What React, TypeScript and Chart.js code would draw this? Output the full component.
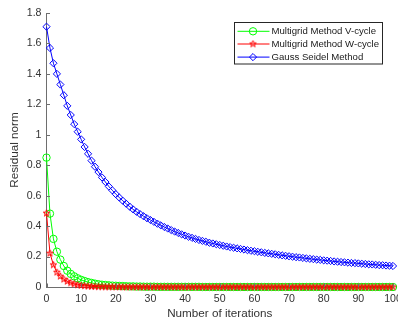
import React, { useEffect, useRef } from "react";
import { Chart, registerables } from "chart.js";

Chart.register(...registerables);

const iterations = [
  0, 1, 2, 3, 4, 5, 6, 7, 8, 9,
  10, 11, 12, 13, 14, 15, 16, 17, 18, 19,
  20, 21, 22, 23, 24, 25, 26, 27, 28, 29,
  30, 31, 32, 33, 34, 35, 36, 37, 38, 39,
  40, 41, 42, 43, 44, 45, 46, 47, 48, 49,
  50, 51, 52, 53, 54, 55, 56, 57, 58, 59,
  60, 61, 62, 63, 64, 65, 66, 67, 68, 69,
  70, 71, 72, 73, 74, 75, 76, 77, 78, 79,
  80, 81, 82, 83, 84, 85, 86, 87, 88, 89,
  90, 91, 92, 93, 94, 95, 96, 97, 98, 99,
  100,
];

const vCycle = [
  0.850, 0.482, 0.316, 0.232, 0.180, 0.138, 0.107, 0.086, 0.070, 0.057,
  0.047, 0.039, 0.032, 0.027, 0.022, 0.018, 0.015, 0.013, 0.011, 0.009,
  0.008, 0.007, 0.006, 0.005, 0.004, 0.004, 0.003, 0.003, 0.002, 0.002,
  0.002, 0.002, 0.001, 0.001, 0.001, 0.001, 0.001, 0.001, 0.001, 0.001,
  0.001, 0.001, 0.001, 0.001, 0.001, 0.000, 0.000, 0.000, 0.000, 0.000,
  0.000, 0.000, 0.000, 0.000, 0.000, 0.000, 0.000, 0.000, 0.000, 0.000,
  0.000, 0.000, 0.000, 0.000, 0.000, 0.000, 0.000, 0.000, 0.000, 0.000,
  0.000, 0.000, 0.000, 0.000, 0.000, 0.000, 0.000, 0.000, 0.000, 0.000,
  0.000, 0.000, 0.000, 0.000, 0.000, 0.000, 0.000, 0.000, 0.000, 0.000,
  0.000, 0.000, 0.000, 0.000, 0.000, 0.000, 0.000, 0.000, 0.000, 0.000,
  0.000,
];

const wCycle = [
  0.485, 0.222, 0.145, 0.097, 0.071, 0.051, 0.037, 0.027, 0.020, 0.014,
  0.010, 0.008, 0.006, 0.004, 0.003, 0.002, 0.002, 0.001, 0.001, 0.001,
  0.001, 0.001, 0.000, 0.000, 0.000, 0.000, 0.000, 0.000, 0.000, 0.000,
  0.000, 0.000, 0.000, 0.000, 0.000, 0.000, 0.000, 0.000, 0.000, 0.000,
  0.000, 0.000, 0.000, 0.000, 0.000, 0.000, 0.000, 0.000, 0.000, 0.000,
  0.000, 0.000, 0.000, 0.000, 0.000, 0.000, 0.000, 0.000, 0.000, 0.000,
  0.000, 0.000, 0.000, 0.000, 0.000, 0.000, 0.000, 0.000, 0.000, 0.000,
  0.000, 0.000, 0.000, 0.000, 0.000, 0.000, 0.000, 0.000, 0.000, 0.000,
  0.000, 0.000, 0.000, 0.000, 0.000, 0.000, 0.000, 0.000, 0.000, 0.000,
  0.000, 0.000, 0.000, 0.000, 0.000, 0.000, 0.000, 0.000, 0.000, 0.000,
  0.000,
];

const gaussSeidel = [
  1.710, 1.570, 1.470, 1.400, 1.330, 1.260, 1.190, 1.130, 1.070, 1.020,
  0.970, 0.920, 0.875, 0.830, 0.790, 0.755, 0.720, 0.690, 0.660, 0.635,
  0.610, 0.588, 0.567, 0.547, 0.528, 0.510, 0.494, 0.479, 0.465, 0.452,
  0.440, 0.428, 0.416, 0.405, 0.394, 0.384, 0.374, 0.364, 0.355, 0.346,
  0.338, 0.330, 0.323, 0.316, 0.309, 0.303, 0.297, 0.291, 0.286, 0.281,
  0.276, 0.271, 0.266, 0.262, 0.258, 0.254, 0.250, 0.246, 0.242, 0.238,
  0.235, 0.231, 0.228, 0.224, 0.221, 0.218, 0.215, 0.211, 0.208, 0.205,
  0.202, 0.199, 0.196, 0.194, 0.191, 0.188, 0.185, 0.183, 0.180, 0.178,
  0.175, 0.173, 0.171, 0.168, 0.166, 0.164, 0.162, 0.160, 0.158, 0.157,
  0.155, 0.153, 0.151, 0.149, 0.148, 0.146, 0.144, 0.143, 0.141, 0.140,
  0.138,
];

const xTickValues = [0, 10, 20, 30, 40, 50, 60, 70, 80, 90, 100];
const yTickValues = [0, 0.2, 0.4, 0.6, 0.8, 1, 1.2, 1.4, 1.6, 1.8];

const seriesLabels = [
  "Multigrid Method V-cycle",
  "Multigrid Method W-cycle",
  "Gauss Seidel Method",
];
const seriesColors = ["#00ff00", "#ff0000", "#0000ff"];

const xTitle = "Number of iterations";
const yTitle = "Residual norm";

const FONT = "'Liberation Sans', Arial, Helvetica, sans-serif";
const AXIS_COLOR = "#6e6e6e";
const TEXT_COLOR = "#333333";

function makePentagram(color: string, R: number): HTMLCanvasElement {
  const size = Math.ceil(R * 2 + 4);
  const c = document.createElement("canvas");
  c.width = size;
  c.height = size;
  const ctx = c.getContext("2d")!;
  const cx = size / 2;
  const cy = size / 2;
  const r = R * 0.382;
  ctx.beginPath();
  for (let k = 0; k < 10; k++) {
    const a = -Math.PI / 2 + (k * Math.PI) / 5;
    const rad = k % 2 === 0 ? R : r;
    const px = cx + rad * Math.cos(a);
    const py = cy + rad * Math.sin(a);
    if (k === 0) ctx.moveTo(px, py);
    else ctx.lineTo(px, py);
  }
  ctx.closePath();
  ctx.strokeStyle = color;
  ctx.lineWidth = 1;
  ctx.stroke();
  return c;
}

const inwardTicks = {
  id: "inwardTicks",
  afterDraw(chart: any) {
    const { ctx, chartArea, scales } = chart;
    const len = 3.5;
    ctx.save();
    ctx.strokeStyle = AXIS_COLOR;
    ctx.lineWidth = 1;
    ctx.beginPath();
    for (const v of xTickValues) {
      const x = Math.round(scales.x.getPixelForValue(v)) + 0.5;
      ctx.moveTo(x, chartArea.bottom);
      ctx.lineTo(x, chartArea.bottom - len);
    }
    for (const v of yTickValues) {
      const y = Math.round(scales.y.getPixelForValue(v)) + 0.5;
      ctx.moveTo(chartArea.left, y);
      ctx.lineTo(chartArea.left + len, y);
    }
    ctx.stroke();
    ctx.restore();
  },
};

const boxLegend = {
  id: "boxLegend",
  afterDraw(chart: any) {
    const { ctx, chartArea } = chart;
    const w = 148;
    const h = 41.5;
    const left = Math.round(chartArea.right - 11.5 - w) + 0.5;
    const top = Math.round(chartArea.top + 9) + 0.5;
    ctx.save();
    ctx.fillStyle = "#ffffff";
    ctx.fillRect(left, top, w, h);
    ctx.strokeStyle = "#262626";
    ctx.lineWidth = 1;
    ctx.strokeRect(left, top, w, h);
    const rows = [8.8, 21.5, 34.6];
    chart.data.datasets.forEach((ds: any, i: number) => {
      const y = top + rows[i];
      const color = ds.borderColor;
      ctx.strokeStyle = color;
      ctx.lineWidth = 1;
      ctx.beginPath();
      ctx.moveTo(left + 3, y);
      ctx.lineTo(left + 35, y);
      ctx.stroke();
      const mx = left + 18.5;
      const style = ds.pointStyle;
      ctx.beginPath();
      if (style === "circle") {
        ctx.arc(mx, y, ds.pointRadius, 0, Math.PI * 2);
        ctx.stroke();
      } else if (style === "rectRot") {
        const r = ds.pointRadius;
        ctx.moveTo(mx - r, y);
        ctx.lineTo(mx, y - r);
        ctx.lineTo(mx + r, y);
        ctx.lineTo(mx, y + r);
        ctx.closePath();
        ctx.stroke();
      } else if (style && style.width) {
        ctx.drawImage(style, mx - style.width / 2, y - style.height / 2);
      }
      ctx.fillStyle = "#1a1a1a";
      ctx.font = `9.6px ${FONT}`;
      ctx.textBaseline = "middle";
      ctx.textAlign = "left";
      ctx.fillText(ds.label, left + 37, y + 0.5);
    });
    ctx.restore();
  },
};

export default function App() {
  const canvasRef = useRef<HTMLCanvasElement | null>(null);

  useEffect(() => {
    if (!canvasRef.current) return;
    const star = makePentagram(seriesColors[1], 3.5);
    const toPoints = (vals: number[]) =>
      iterations.map((x, i) => ({ x, y: vals[i] }));

    const tickFont = { family: FONT, size: 10.6 };
    const titleFont = { family: FONT, size: 11.7, lineHeight: 1.0 };

    const chart = new Chart(canvasRef.current, {
      type: "line",
      data: {
        datasets: [
          {
            label: seriesLabels[0],
            data: toPoints(vCycle),
            borderColor: seriesColors[0],
            backgroundColor: "rgba(0,0,0,0)",
            borderWidth: 1,
            pointStyle: "circle",
            pointRadius: 3.7,
            pointBorderWidth: 1,
            pointBorderColor: seriesColors[0],
            pointBackgroundColor: "rgba(0,0,0,0)",
            order: 2,
            clip: false,
          },
          {
            label: seriesLabels[1],
            data: toPoints(wCycle),
            borderColor: seriesColors[1],
            backgroundColor: "rgba(0,0,0,0)",
            borderWidth: 1,
            pointStyle: star as any,
            pointRadius: 3.5,
            pointBorderWidth: 1,
            pointBorderColor: seriesColors[1],
            pointBackgroundColor: "rgba(0,0,0,0)",
            order: 1,
            clip: false,
          },
          {
            label: seriesLabels[2],
            data: toPoints(gaussSeidel),
            borderColor: seriesColors[2],
            backgroundColor: "rgba(0,0,0,0)",
            borderWidth: 1,
            pointStyle: "rectRot",
            pointRadius: 3.6,
            pointBorderWidth: 1,
            pointBorderColor: seriesColors[2],
            pointBackgroundColor: "rgba(0,0,0,0)",
            order: 0,
            clip: false,
          },
        ] as any,
      },
      options: {
        animation: false,
        responsive: false,
        devicePixelRatio: 1,
        layout: { padding: { top: 13, right: 3.2, left: 0, bottom: 0 } },
        plugins: {
          legend: { display: false },
          tooltip: { enabled: false },
        },
        elements: { line: { tension: 0 } },
        scales: {
          x: {
            type: "linear",
            min: 0,
            max: 100,
            afterBuildTicks: (s: any) => {
              s.ticks = xTickValues.map((v) => ({ value: v }));
            },
            afterFit: (s: any) => {
              s.height = 33;
              s.paddingLeft = 0;
              s.paddingRight = 0;
            },
            grid: { display: false, drawTicks: false },
            border: { display: true, color: AXIS_COLOR, width: 1 },
            ticks: {
              color: TEXT_COLOR,
              font: tickFont,
              padding: 6,
              maxRotation: 0,
              autoSkip: false,
              callback: (v: any) => String(v),
            },
            title: {
              display: true,
              text: xTitle,
              color: TEXT_COLOR,
              font: titleFont,
              padding: { top: 0, bottom: 0 },
            },
          },
          y: {
            type: "linear",
            min: 0,
            max: 1.8,
            afterBuildTicks: (s: any) => {
              s.ticks = yTickValues.map((v) => ({ value: v }));
            },
            afterFit: (s: any) => {
              s.width = 46.5;
              s.paddingTop = 0;
              s.paddingBottom = 0;
            },
            grid: { display: false, drawTicks: false },
            border: { display: true, color: AXIS_COLOR, width: 1 },
            ticks: {
              color: TEXT_COLOR,
              font: tickFont,
              padding: 5,
              autoSkip: false,
              callback: (v: any) => String(Math.round(Number(v) * 10) / 10),
            },
            title: {
              display: true,
              text: yTitle,
              color: TEXT_COLOR,
              font: titleFont,
              padding: { top: 8.5, bottom: 0 },
            },
          },
        },
      } as any,
      plugins: [inwardTicks, boxLegend],
    });
    return () => chart.destroy();
  }, []);

  return (
    <div
      style={{
        position: "absolute",
        left: 0,
        top: 0,
        width: 398,
        height: 320,
        background: "#ffffff",
      }}
    >
      <canvas ref={canvasRef} width={398} height={320} />
    </div>
  );
}
